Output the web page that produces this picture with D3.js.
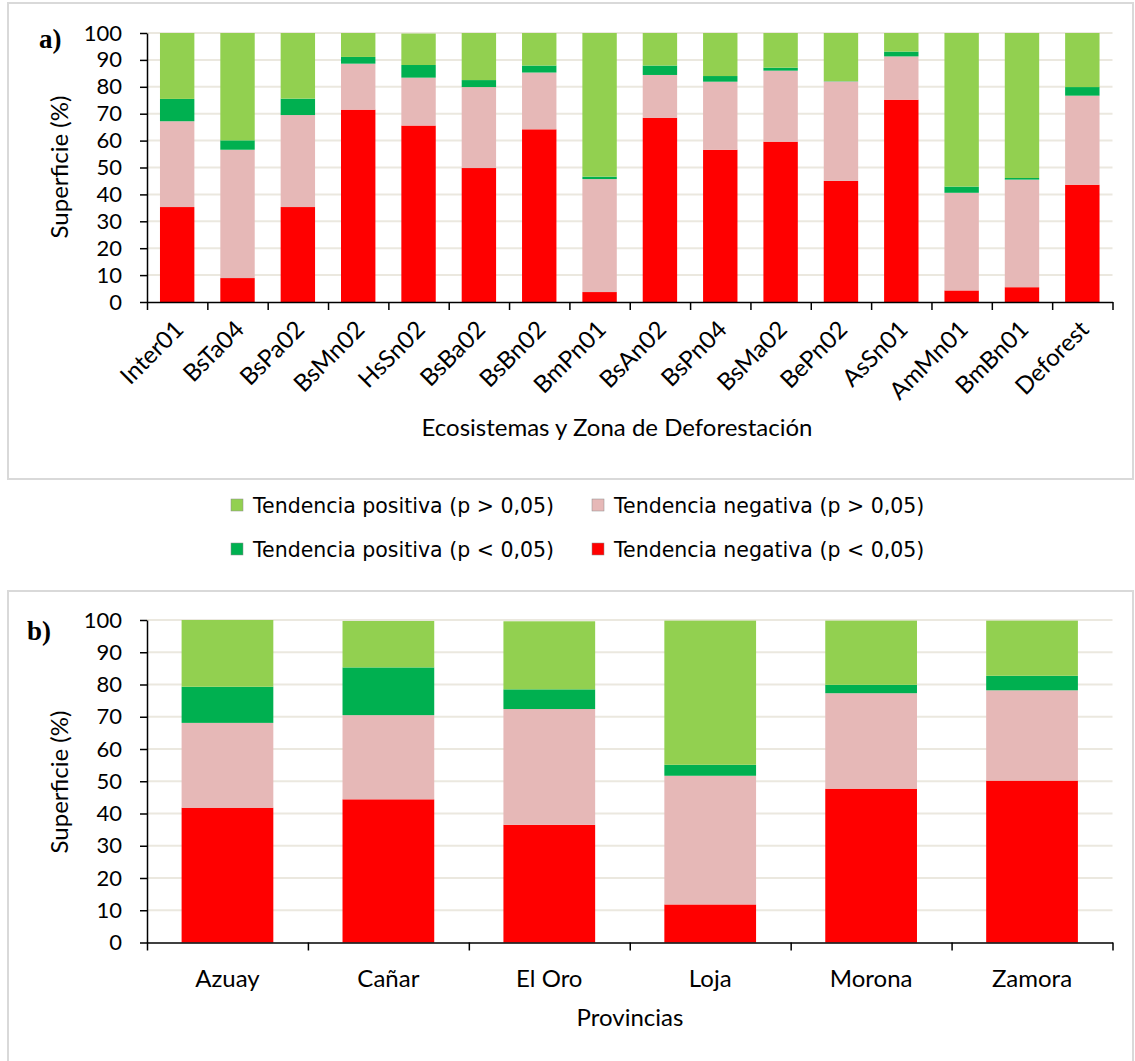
<!DOCTYPE html>
<html>
<head>
<meta charset="utf-8">
<script src="https://cdn.jsdelivr.net/npm/d3@7"></script>
<style>
  html, body { margin: 0; padding: 0; background: #fff; }
  svg { display: block; }
</style>
</head>
<body>
<svg id="chart" width="1135" height="1061"></svg>
<script>
// Ecosystems and deforestation zone (panel a)
const ecosystems = ["Inter01","BsTa04","BsPa02","BsMn02","HsSn02","BsBa02","BsBn02","BmPn01",
                    "BsAn02","BsPn04","BsMa02","BePn02","AsSn01","AmMn01","BmBn01","Deforest"];
const ecoNegSig   = [35.3, 8.9, 35.3, 71.5, 65.6, 49.8, 64.2, 3.7, 68.5, 56.6, 59.6, 45.0, 75.2, 4.3, 5.5, 43.6];
const ecoNegNoSig = [31.9, 47.7, 34.2, 17.1, 17.8, 30.1, 21.1, 42.0, 15.9, 25.3, 26.4, 37.0, 16.1, 36.3, 40.0, 33.1];
const ecoPosSig   = [8.3, 3.5, 6.1, 2.5, 4.7, 2.6, 2.6, 0.9, 3.5, 2.1, 1.1, 0.1, 1.8, 2.3, 0.6, 3.2];
const ecoPosNoSig = [24.5, 39.9, 24.4, 8.9, 11.7, 17.5, 12.1, 53.4, 12.1, 16.0, 12.9, 17.9, 6.9, 57.1, 53.9, 20.1];

// Provinces (panel b)
const provinces   = ["Azuay","Cañar","El Oro","Loja","Morona","Zamora"];
const provNegSig   = [41.8, 44.4, 36.5, 11.8, 47.7, 50.2];
const provNegNoSig = [26.3, 26.1, 35.9, 39.9, 29.6, 28.0];
const provPosSig   = [11.2, 14.8, 6.1, 3.4, 2.6, 4.5];
const provPosNoSig = [20.7, 14.4, 21.1, 44.7, 19.9, 17.1];

const yTicks = [0,10,20,30,40,50,60,70,80,90,100];

const seriesKeys = ["negSig","negNoSig","posSig","posNoSig"];
const seriesColor = {
  posNoSig: "#92d050",
  negNoSig: "#e6b8b7",
  posSig:   "#00b050",
  negSig:   "#ff0000"
};
const legendItems = [
  {key: "posNoSig", label: "Tendencia positiva (p > 0,05)"},
  {key: "negNoSig", label: "Tendencia negativa (p > 0,05)"},
  {key: "posSig",   label: "Tendencia positiva (p < 0,05)"},
  {key: "negSig",   label: "Tendencia negativa (p < 0,05)"}
];

const svg = d3.select("#chart");
const FONT = "Lato, sans-serif";

function buildRows(cats, a, b, c, d) {
  return cats.map((name, i) => ({name, negSig: a[i], negNoSig: b[i], posSig: c[i], posNoSig: d[i]}));
}

function drawPanel(opt) {
  const {cats, rows, x0, x1, yTop, yBot, box, tag, tagPos, xTitle, xTitleX, xTitleY, rotated, yTitleY} = opt;

  // panel frame
  svg.append("rect")
    .attr("x", box[0]).attr("y", box[1])
    .attr("width", box[2]).attr("height", box[3])
    .attr("fill", "none").attr("stroke", "#d9d9d9").attr("stroke-width", 2);

  const x = d3.scaleBand().domain(cats).range([x0, x1])
    .paddingInner(0.43).paddingOuter(0.215);
  const y = d3.scaleLinear().domain([0, 100]).range([yBot, yTop]);
  const edges = d3.scaleLinear().domain([0, cats.length]).range([x0, x1]);

  const g = svg.append("g");

  // gridlines
  g.append("g").selectAll("line").data(yTicks.filter(t => t > 0)).join("line")
    .attr("x1", x0).attr("x2", x1)
    .attr("y1", d => y(d)).attr("y2", d => y(d))
    .attr("stroke", "#ebe8df").attr("stroke-width", 2);

  // stacked bars
  const stacked = d3.stack().keys(seriesKeys)(rows);
  g.append("g").selectAll("g").data(stacked).join("g")
    .attr("fill", d => seriesColor[d.key])
    .selectAll("rect").data(d => d).join("rect")
      .attr("x", d => x(d.data.name))
      .attr("width", x.bandwidth())
      .attr("y", d => y(d[1]))
      .attr("height", d => Math.max(0, y(d[0]) - y(d[1])));

  // y axis
  const yAxis = g.append("g").attr("transform", `translate(${x0},0)`)
    .call(d3.axisLeft(y).tickValues(yTicks).tickSize(7).tickSizeOuter(0).tickPadding(18));
  yAxis.select(".domain").attr("stroke", "#000").attr("stroke-width", 1.5);
  yAxis.selectAll(".tick line").attr("stroke", "#000").attr("stroke-width", 1.5);
  yAxis.selectAll("text").attr("font-family", FONT).attr("font-size", 22).attr("fill", "#000");

  // x axis: ticks on category boundaries
  const xAxis = g.append("g").attr("transform", `translate(0,${yBot})`)
    .call(d3.axisBottom(edges).tickValues(d3.range(cats.length + 1)).tickSize(8).tickSizeOuter(0).tickFormat(""));
  xAxis.select(".domain").attr("stroke", "#000").attr("stroke-width", 1.5);
  xAxis.selectAll(".tick line").attr("stroke", "#000").attr("stroke-width", 1.5);

  // category labels
  const labels = g.append("g").selectAll("text").data(cats).join("text")
    .attr("font-family", FONT).attr("font-size", 24).attr("fill", "#000")
    .text(d => d);
  if (rotated) {
    labels.attr("text-anchor", "end")
      .attr("transform", d => `translate(${x(d) + x.bandwidth() / 2 + 8},${yBot + 29}) rotate(-45)`);
  } else {
    labels.attr("text-anchor", "middle")
      .attr("x", d => x(d) + x.bandwidth() / 2)
      .attr("y", yBot + 44);
  }

  // axis titles
  g.append("text")
    .attr("font-family", FONT).attr("font-size", 24).attr("fill", "#000")
    .attr("text-anchor", "middle")
    .attr("transform", `translate(68,${yTitleY}) rotate(-90)`)
    .text("Superficie (%)");
  g.append("text")
    .attr("font-family", FONT).attr("font-size", 24).attr("fill", "#000")
    .attr("text-anchor", "middle")
    .attr("x", xTitleX).attr("y", xTitleY)
    .text(xTitle);

  // panel tag
  g.append("text")
    .attr("font-family", "'Liberation Serif', serif").attr("font-weight", "bold")
    .attr("font-size", 27).attr("fill", "#000")
    .attr("x", tagPos[0]).attr("y", tagPos[1])
    .text(tag);
}

drawPanel({
  cats: ecosystems,
  rows: buildRows(ecosystems, ecoNegSig, ecoNegNoSig, ecoPosSig, ecoPosNoSig),
  x0: 147, x1: 1112.5, yTop: 33, yBot: 302,
  box: [8, 3, 1125, 476],
  tag: "a)", tagPos: [39, 48],
  xTitle: "Ecosistemas y Zona de Deforestación", xTitleX: 617, xTitleY: 436,
  rotated: true, yTitleY: 167
});

drawPanel({
  cats: provinces,
  rows: buildRows(provinces, provNegSig, provNegNoSig, provPosSig, provPosNoSig),
  x0: 147, x1: 1112.5, yTop: 620, yBot: 942.5,
  box: [8, 591, 1125, 480],
  tag: "b)", tagPos: [27, 640],
  xTitle: "Provincias", xTitleX: 630, xTitleY: 1026,
  rotated: false, yTitleY: 782
});

// legend (2 x 2)
const legPos = [[231, 505], [592, 505], [231, 549], [592, 549]];
const leg = svg.append("g").selectAll("g").data(legendItems).join("g")
  .attr("transform", (d, i) => `translate(${legPos[i][0]},${legPos[i][1]})`);
leg.append("rect")
  .attr("x", 0).attr("y", -6).attr("width", 12).attr("height", 12)
  .attr("fill", d => seriesColor[d.key])
  .attr("stroke", "#8c8c8c").attr("stroke-width", 0.5);
leg.append("text")
  .attr("x", 22).attr("y", 7.5)
  .attr("font-family", "'DejaVu Sans', sans-serif").attr("font-size", 20.5)
  .attr("fill", "#000")
  .text(d => d.label);
</script>
</body>
</html>
